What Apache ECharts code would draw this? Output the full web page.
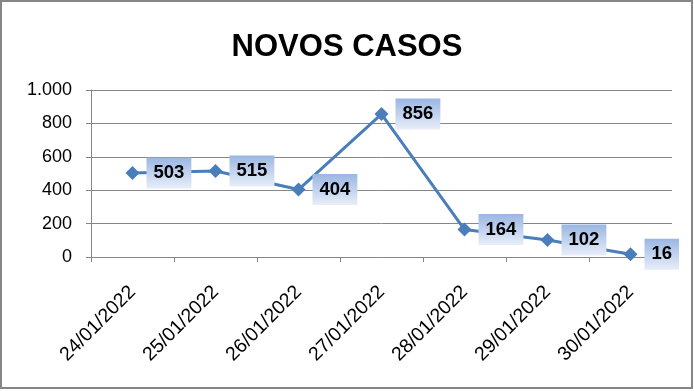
<!DOCTYPE html>
<html><head><meta charset="utf-8">
<script src="https://cdn.jsdelivr.net/npm/echarts@6/dist/echarts.min.js"></script>
<style>html,body{margin:0;padding:0;background:#fff}#c{width:694px;height:391px}</style>
</head><body><div id="c"></div>
<script>
var categories = ['24/01/2022','25/01/2022','26/01/2022','27/01/2022','28/01/2022','29/01/2022','30/01/2022'];
var novosCasos = [503, 515, 404, 856, 164, 102, 16];
var yTicks = [0, 200, 400, 600, 800, 1000];
var titleText = 'NOVOS CASOS';

var chart = echarts.init(document.getElementById('c'), null, {renderer: 'canvas'});
var FONT = '"Liberation Sans", Arial, sans-serif';
function fmt(v){ return String(v).replace(/\B(?=(\d{3})+(?!\d))/g, '.'); }
chart.setOption({
  backgroundColor: '#fff',
  animation: false,
  title: {
    text: titleText, left: 'center', top: 27,
    textStyle: {fontFamily: FONT, fontWeight: 'bold', fontSize: 31, color: '#000'}
  },
  graphic: [{type: 'rect', shape: {x: 1, y: 1, width: 691, height: 387}, style: {fill: 'none', stroke: '#868686', lineWidth: 2}, silent: true}],
  grid: {left: 91, right: 22, top: 90, bottom: 134, containLabel: false},
  xAxis: {
    type: 'category', data: categories, boundaryGap: true,
    axisLine: {lineStyle: {color: '#868686', width: 1}},
    axisTick: {show: true, length: 5, lineStyle: {color: '#868686'}, alignWithLabel: false},
    axisLabel: {rotate: 45, interval: 0, margin: 32, fontFamily: FONT, fontSize: 19.5, color: '#000'}
  },
  yAxis: {
    type: 'value', min: yTicks[0], max: yTicks[yTicks.length-1], interval: 200,
    axisLine: {show: true, lineStyle: {color: '#868686', width: 1}},
    axisTick: {show: true, length: 5, lineStyle: {color: '#868686'}},
    splitLine: {lineStyle: {color: '#868686', width: 1}},
    axisLabel: {margin: 19, fontFamily: FONT, fontSize: 18, color: '#000', formatter: fmt}
  },
  series: [{
    type: 'line', data: novosCasos,
    lineStyle: {color: '#4A7EBB', width: 3},
    itemStyle: {color: '#4A7EBB'},
    symbol: 'diamond', symbolSize: 14,
    label: {
      show: true, position: 'right', distance: 7,
      fontFamily: FONT, fontWeight: 'bold', fontSize: 18.5, color: '#000',
      padding: [6, 7, 6, 7],
      backgroundColor: new echarts.graphic.LinearGradient(0, 0, 0, 1, [
        {offset: 0, color: '#9AB6E2'}, {offset: 1, color: '#E8EEF9'}
      ])
    }
  }]
});
</script></body></html>
